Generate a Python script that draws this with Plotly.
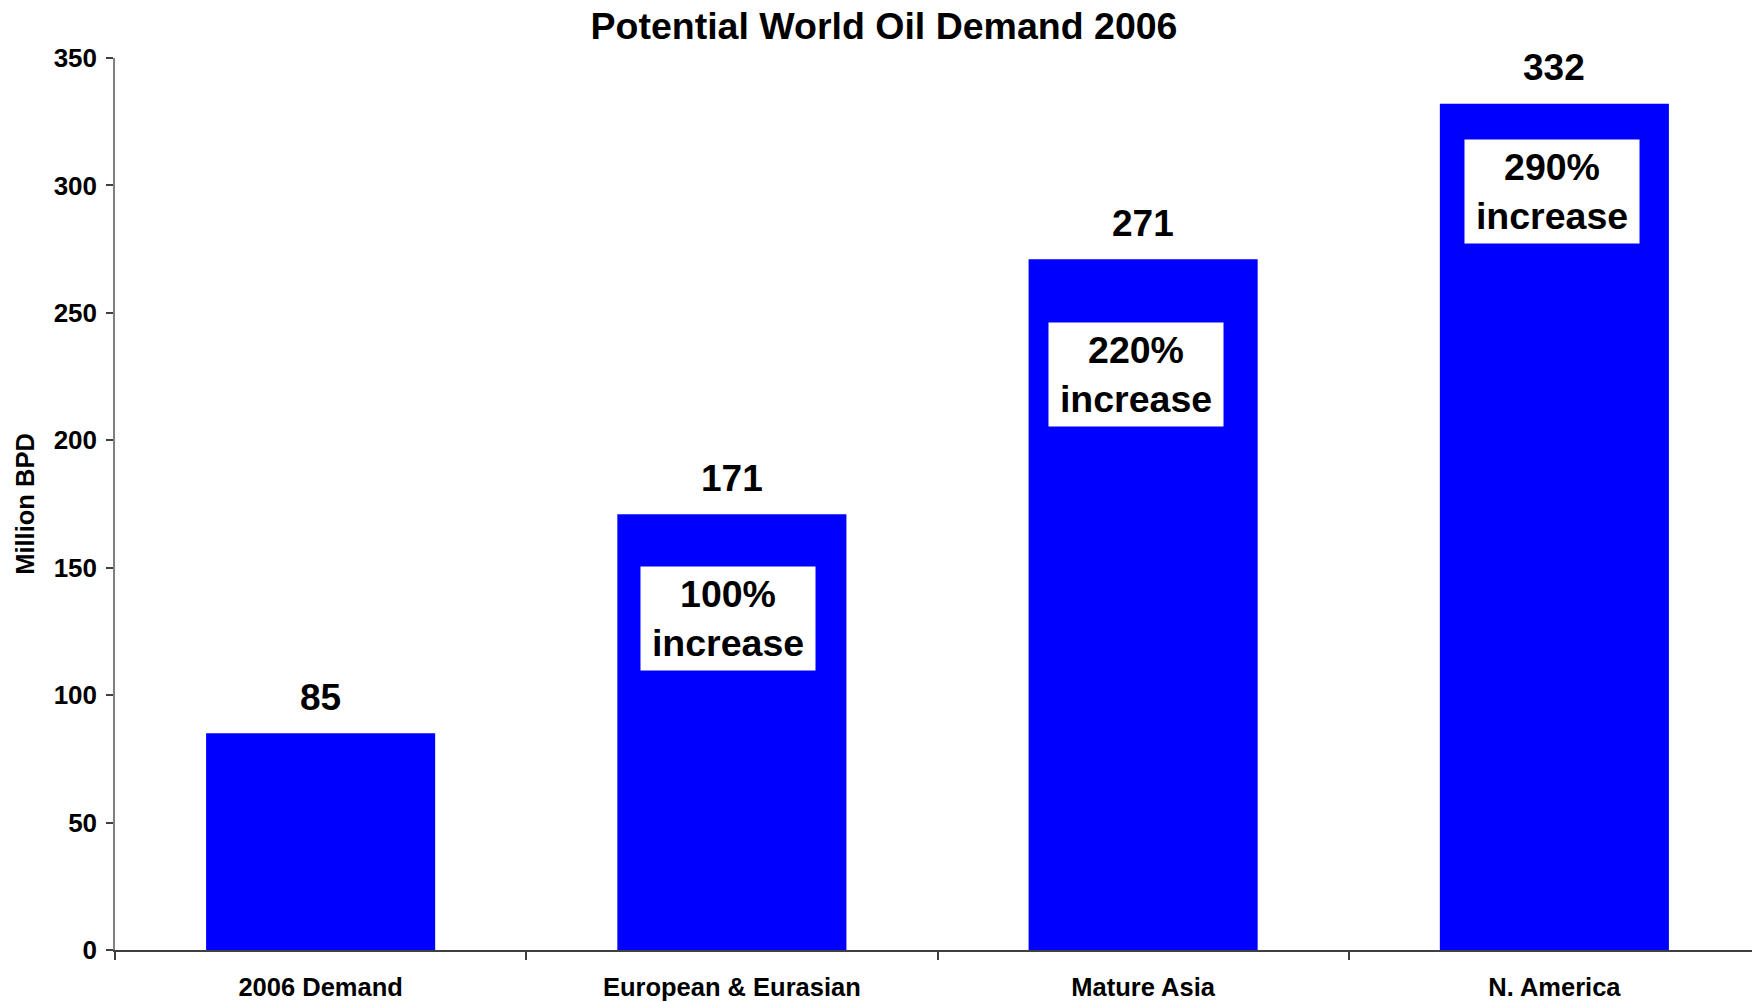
import plotly.graph_objects as go

categories = ["2006 Demand", "European & Eurasian", "Mature Asia", "N. America"]
demand = [85, 171, 271, 332]
increase_labels = ["", "100%<br>increase", "220%<br>increase", "290%<br>increase"]
# vertical centre of each white call-out box (in axis units) and small horizontal nudges (px)
box_centers = [None, 130, 226, 297.5]
box_xshift = [0, -4, -7, -2]

FONT = "Liberation Sans, Arial, sans-serif"
BLUE = "#0000FF"

fig = go.Figure()
fig.add_trace(go.Bar(
    x=categories, y=demand,
    marker=dict(color=BLUE, line=dict(width=0)),
    hoverinfo="skip",
))

annotations = []
for cat, v in zip(categories, demand):
    annotations.append(dict(
        x=cat, y=v, xref="x", yref="y", text=str(v), showarrow=False,
        yanchor="middle", yshift=36,
        font=dict(family=FONT, size=37, color="black", weight="bold"),
    ))
for cat, lab, yc, xs in zip(categories, increase_labels, box_centers, box_xshift):
    if not lab:
        continue
    annotations.append(dict(
        x=cat, y=yc, xref="x", yref="y", text=lab, showarrow=False,
        yanchor="middle", xshift=xs,
        bgcolor="white", borderpad=5, width=164, height=93,
        font=dict(family=FONT, size=37.5, color="black", weight="bold"),
    ))

fig.update_layout(
    width=1752, height=994,
    margin=dict(l=107, r=0, t=50, b=52, pad=0),
    paper_bgcolor="white", plot_bgcolor="white",
    showlegend=False,
    bargap=0.443,
    title=dict(
        text="Potential World Oil Demand 2006",
        x=0.5, xanchor="center", xref="container", y=0.982, yanchor="middle",
        font=dict(family=FONT, size=37.5, color="black", weight="bold"),
    ),
    annotations=annotations,
    xaxis=dict(
        type="category",
        showline=True, linecolor="#404040", linewidth=1.5,
        ticks="outside", tickson="boundaries", ticklen=8, tickcolor="#404040", tickwidth=1.5,
        ticklabelstandoff=14,
        tickfont=dict(family=FONT, size=25.5, color="black", weight="bold"),
        showgrid=False, zeroline=False,
        range=[-0.5, 3.5],
    ),
    yaxis=dict(
        range=[0, 350], dtick=50, tick0=0,
        showline=True, linecolor="#808080", linewidth=1.5,
        ticks="outside", ticklen=7, tickcolor="#404040", tickwidth=1.5,
        ticklabelstandoff=4,
        tickfont=dict(family=FONT, size=26, color="black", weight="bold"),
        showgrid=False, zeroline=False,
        title=dict(text="Million BPD", standoff=12,
                   font=dict(family=FONT, size=25.5, color="black", weight="bold")),
    ),
)

fig.write_html("out.html")
